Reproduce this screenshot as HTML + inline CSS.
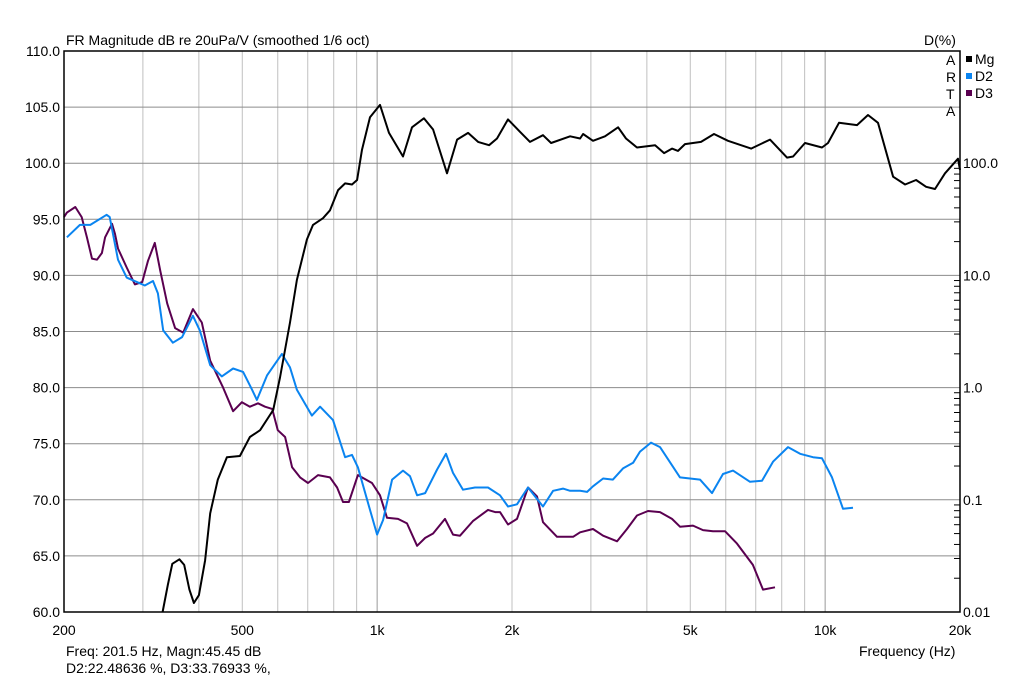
<!DOCTYPE html>
<html><head><meta charset="utf-8"><style>
body{margin:0;background:#fff;width:1024px;height:680px;overflow:hidden}
svg text{font-family:"Liberation Sans",sans-serif;font-size:14px;fill:#000}
</style></head><body>
<svg id="chart" width="1024" height="680" xmlns="http://www.w3.org/2000/svg">
<g id="grid"></g>
<g id="series"></g>
<rect x="64" y="51" width="896" height="561" fill="none" stroke="#000" stroke-width="1.5"/>
<g id="axes"></g>
<text x="66" y="45">FR Magnitude dB re 20uPa/V (smoothed 1/6 oct)</text>
<text x="924" y="45">D(%)</text>
<g font-size="14">
<text x="946" y="65">A</text><text x="946" y="82">R</text><text x="946" y="99">T</text><text x="946" y="116">A</text></g>
<g>
<g><rect x="966" y="56" width="6" height="6" fill="#000"/><text x="975" y="64">Mg</text></g>
<g><rect x="966" y="73" width="6" height="6" fill="#0a84f0"/><text x="975" y="81">D2</text></g>
<g><rect x="966" y="90" width="6" height="6" fill="#5a0050"/><text x="975" y="98">D3</text></g>
</g>
<text x="859" y="656">Frequency (Hz)</text>
<text x="66" y="656">Freq: 201.5 Hz, Magn:45.45 dB</text>
<text x="66" y="673">D2:22.48636 %, D3:33.76933 %,</text>
</svg>
<script>
const mgFreq=[332,341,349,362,371,381,390,400,413,424,441,462,494,520,548,586,607,639,662,697,719,757,785,818,848,879,902,925,964,1015,1063,1142,1196,1272,1333,1432,1508,1596,1680,1778,1852,1959,2084,2194,2346,2445,2696,2838,2882,3033,3226,3450,3594,3802,4172,4370,4552,4694,4866,5284,5648,6070,6834,7532,8222,8480,9016,9840,10150,10740,11780,12462,13120,14180,15080,15960,16800,17590,18520,19800,20000];
const mgDb=[60.0,62.4,64.3,64.7,64.2,62.0,60.8,61.5,64.6,68.8,71.8,73.8,73.9,75.6,76.2,78.0,80.9,85.8,89.6,93.2,94.5,95.1,95.8,97.6,98.2,98.1,98.5,101.2,104.1,105.2,102.7,100.6,103.2,104.0,103.0,99.1,102.1,102.7,101.9,101.6,102.2,103.9,102.8,101.9,102.5,101.8,102.4,102.2,102.6,102.0,102.4,103.2,102.2,101.4,101.6,100.9,101.3,101.1,101.7,101.9,102.6,102.0,101.3,102.1,100.5,100.6,101.8,101.4,101.8,103.6,103.4,104.3,103.6,98.8,98.1,98.5,97.9,97.7,99.1,100.4,99.4];
const d2Freq=[203,217,229,249,253,264,276,291,303,316,324,333,350,367,388,402,424,450,477,502,526,539,568,613,639,662,715,746,797,848,879,906,964,1000,1031,1080,1142,1184,1228,1280,1361,1425,1477,1555,1654,1768,1880,1959,2052,2171,2346,2470,2600,2696,2838,2942,3033,3194,3360,3538,3726,3862,4086,4280,4742,5256,5590,5916,6228,6796,7228,7650,8262,8792,9394,9840,10360,10960,11540];
const d2Db=[93.4,94.5,94.5,95.4,95.2,91.4,89.8,89.4,89.1,89.5,88.4,85.1,84.0,84.5,86.4,85.1,82.0,81.0,81.7,81.4,79.8,78.9,81.1,83.0,81.8,79.8,77.5,78.3,77.1,73.8,74.0,72.9,69.1,66.9,68.2,71.8,72.6,72.1,70.4,70.6,72.7,74.1,72.4,70.9,71.1,71.1,70.4,69.4,69.6,71.1,69.4,70.8,71.0,70.8,70.8,70.7,71.2,71.9,71.8,72.8,73.3,74.3,75.1,74.7,72.0,71.8,70.6,72.3,72.6,71.6,71.7,73.4,74.7,74.1,73.8,73.7,72.0,69.2,69.3];
const d3Freq=[200,203,212,219,225,231,237,243,247,256,260,264,276,288,299,308,319,328,340,354,369,388,406,424,453,477,499,520,542,562,583,600,623,646,673,701,738,785,814,839,865,906,974,1015,1052,1113,1166,1228,1280,1333,1417,1477,1531,1636,1768,1834,1880,1959,2052,2171,2274,2346,2520,2654,2738,2838,3033,3194,3432,3612,3802,4024,4280,4552,4742,5070,5338,5620,5976,6356,6900,7266,7730];
const d3Db=[95.2,95.6,96.1,95.2,93.4,91.5,91.4,92.0,93.4,94.6,93.7,92.4,90.7,89.2,89.4,91.3,92.9,90.4,87.5,85.3,84.9,87.0,85.8,82.4,80.0,77.9,78.7,78.3,78.6,78.3,78.1,76.2,75.6,72.9,72.0,71.5,72.2,72.0,71.1,69.8,69.8,72.2,71.5,70.4,68.4,68.3,67.9,65.9,66.6,67.0,68.3,66.9,66.8,68.1,69.1,68.9,68.9,67.8,68.3,71.1,70.3,68.0,66.7,66.7,66.7,67.1,67.4,66.8,66.3,67.4,68.6,69.0,68.9,68.3,67.6,67.7,67.3,67.2,67.2,66.1,64.2,62.0,62.2];
const yTicks=[60,65,70,75,80,85,90,95,100,105,110];
const rightTicks=["0.01","0.1","1.0","10.0","100.0"];
const xTickVals=[200,500,1000,2000,5000,10000,20000];
const xTickLabels=["200","500","1k","2k","5k","10k","20k"];

const NS="http://www.w3.org/2000/svg";
const X0=64,X1=960,Y0=51,Y1=612,FMIN=200,FMAX=20000,DMIN=60,DMAX=110;
function xs(f){return X0+(Math.log10(f)-Math.log10(FMIN))/(Math.log10(FMAX)-Math.log10(FMIN))*(X1-X0);}
function ys(d){return Y1-(d-DMIN)/(DMAX-DMIN)*(Y1-Y0);}
function mk(tag,attrs,parent){const e=document.createElementNS(NS,tag);for(const k in attrs)e.setAttribute(k,attrs[k]);parent.appendChild(e);return e;}
const grid=document.getElementById('grid'),axes=document.getElementById('axes'),series=document.getElementById('series');
// vertical grid
for(let dec=100;dec<=10000;dec*=10){for(let m=1;m<10;m++){const f=dec*m;if(f<=FMIN||f>=FMAX)continue;
 const l=mk('line',{x1:xs(f),x2:xs(f),y1:Y0,y2:Y1,stroke:(f===1000||f===10000)?'#999':'#c0c0c0','stroke-width':1},grid);
 
 }}
yTicks.forEach(v=>{
 const l=mk('line',{x1:X0,x2:X1,y1:ys(v),y2:ys(v),stroke:'#8c8c8c','stroke-width':1},grid);
 
 
 const t=mk('text',{x:X0-4,y:ys(v)+5,'text-anchor':'end'},axes);t.textContent=v.toFixed(1);
 
 
});
rightTicks.forEach((s,i)=>{
 const y=ys(DMIN+i*10);
 const t=mk('text',{x:X1+3,y:y+5},axes);t.textContent=s;
 
 
 if(i<4){for(let m=2;m<10;m++){const yy=y-Math.log10(m)*(ys(DMIN)-ys(DMIN+10));
  const l=mk('line',{x1:X1-6,x2:X1,y1:yy,y2:yy,stroke:'#000','stroke-width':1},axes);
  
  }}
});
xTickVals.forEach((f,i)=>{
 const t=mk('text',{x:xs(f),y:Y1+23,'text-anchor':'middle'},axes);t.textContent=xTickLabels[i];
 
 
});
function draw(fr,db,color,name){
 const pts=fr.map((f,i)=>xs(f).toFixed(1)+','+ys(db[i]).toFixed(1)).join(' ');
 const p=mk('polyline',{points:pts,fill:'none',stroke:color,'stroke-width':2,'stroke-linejoin':'round'},series);
 
 
}
draw(d3Freq,d3Db,'#5a0050','d3-line');
draw(d2Freq,d2Db,'#0a84f0','d2-line');
draw(mgFreq,mgDb,'#000','magnitude-line');
</script>
</body></html>
